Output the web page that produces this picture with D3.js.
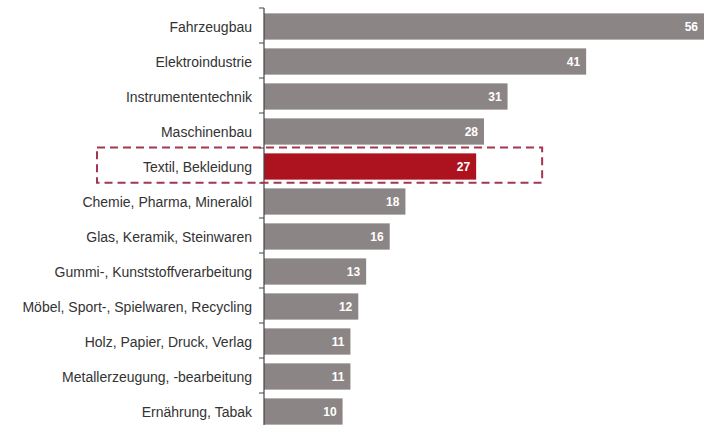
<!DOCTYPE html>
<html>
<head>
<meta charset="utf-8">
<script src="https://cdn.jsdelivr.net/npm/d3@7"></script>
<style>
  body { margin: 0; background: #fff; }
  text { font-family: Arial, "Liberation Sans", sans-serif; }
</style>
</head>
<body>
<svg id="chart"></svg>
<script>
// data
const categories = [
  "Fahrzeugbau", "Elektroindustrie", "Instrumententechnik", "Maschinenbau",
  "Textil, Bekleidung", "Chemie, Pharma, Mineralöl", "Glas, Keramik, Steinwaren",
  "Gummi-, Kunststoffverarbeitung", "Möbel, Sport-, Spielwaren, Recycling",
  "Holz, Papier, Druck, Verlag", "Metallerzeugung, -bearbeitung", "Ernährung, Tabak"
];
const values = [56, 41, 31, 28, 27, 18, 16, 13, 12, 11, 11, 10];
const highlight = "Textil, Bekleidung";

const data = categories.map((c, i) => ({ cat: c, val: values[i] }));

const width = 708, height = 425;
const margin = { top: 8, right: 4, left: 264 };
const innerW = width - margin.left - margin.right;
const innerH = 420;

const svg = d3.select('#chart')
  .attr('width', width)
  .attr('height', height);

const chart = svg.append('g')
  .attr('transform', `translate(${margin.left},${margin.top})`);

const xScale = d3.scaleLinear()
  .domain([0, 56])
  .range([0, innerW]);

const yScale = d3.scaleBand()
  .domain(categories)
  .range([0, innerH])
  .paddingInner(0.25)
  .paddingOuter(0.125);

const step = yScale.step();
const gap = (step - yScale.bandwidth()) / 2;

// bars
chart.selectAll('rect.bar')
  .data(data)
  .enter()
  .append('rect')
    .attr('class', 'bar')
    .attr('x', 0)
    .attr('y', d => yScale(d.cat) + 1)
    .attr('width', d => xScale(d.val))
    .attr('height', yScale.bandwidth())
    .attr('fill', d => d.cat === highlight ? '#ad121f' : '#8c8585');

// value labels
chart.selectAll('text.val')
  .data(data)
  .enter()
  .append('text')
    .attr('class', 'val')
    .attr('x', d => xScale(d.val) - 6)
    .attr('y', d => yScale(d.cat) + 1 + yScale.bandwidth() / 2)
    .attr('dy', '0.36em')
    .attr('text-anchor', 'end')
    .attr('fill', '#fff')
    .attr('font-size', 12)
    .attr('font-weight', 'bold')
    .text(d => d.val);

// y axis: line plus ticks between bands
const axisG = chart.append('g').attr('class', 'axis y-axis');
axisG.append('line')
  .attr('x1', 0).attr('x2', 0)
  .attr('y1', 0).attr('y2', height)
  .attr('stroke', '#444').attr('stroke-width', 1.2);
axisG.selectAll('line.tick')
  .data(categories)
  .enter()
  .append('line')
    .attr('class', 'tick')
    .attr('x1', -5).attr('x2', 0)
    .attr('y1', d => yScale(d) - gap)
    .attr('y2', d => yScale(d) - gap)
    .attr('stroke', '#444');

axisG.selectAll('text.cat')
  .data(categories)
  .enter()
  .append('text')
    .attr('class', 'cat')
    .attr('x', -12)
    .attr('y', d => yScale(d) + 1 + yScale.bandwidth() / 2)
    .attr('dy', '0.36em')
    .attr('text-anchor', 'end')
    .attr('fill', '#333')
    .attr('font-size', 14)
    .text(d => d);

// dashed highlight box
const hy = yScale(highlight);
chart.append('rect')
  .attr('x', 97 - margin.left)
  .attr('y', hy - 5)
  .attr('width', xScale(35.4) - (97 - margin.left))
  .attr('height', yScale.bandwidth() + 9)
  .attr('fill', 'none')
  .attr('stroke', '#a33650')
  .attr('stroke-width', 2)
  .attr('stroke-dasharray', '8,5');
</script>
</body>
</html>
